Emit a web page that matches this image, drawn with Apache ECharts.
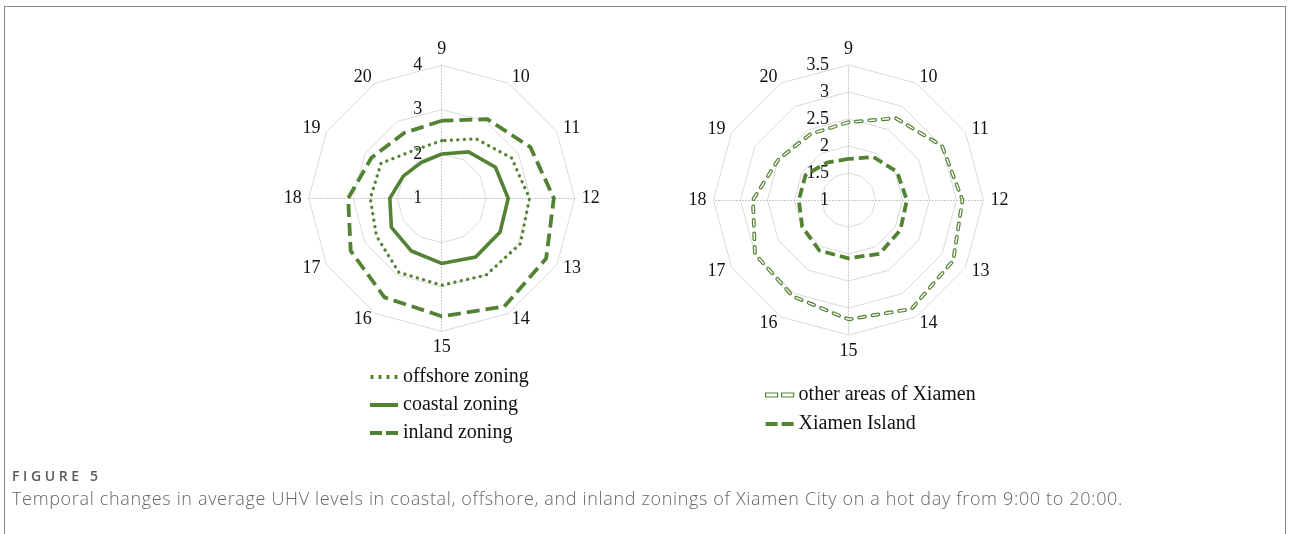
<!DOCTYPE html>
<html>
<head>
<meta charset="utf-8">
<script src="https://cdn.jsdelivr.net/npm/echarts@6/dist/echarts.min.js"></script>
<style>
  html, body { margin: 0; padding: 0; background: #fff; }
  #wrap { position: relative; width: 1290px; height: 534px; overflow: hidden; }
  #frame { position: absolute; left: 4px; top: 6px; width: 1280px; height: 600px; border: 1px solid #8a8a8a; }
  #chart { position: absolute; left: 0; top: 0; width: 1290px; height: 534px; }
  .fig-label { position: absolute; left: 12px; top: 466px; font: 600 14px "Open Sans", sans-serif; letter-spacing: 3.6px; color: #5a5a5a; white-space: nowrap; }
  .fig-caption { position: absolute; left: 12px; top: 486px; font: 300 18px "Open Sans", sans-serif; letter-spacing: 0.66px; color: #666; white-space: nowrap; }
</style>
</head>
<body>
<div id="wrap">
  <div id="frame"></div>
  <div id="chart"></div>
  <div class="fig-label">FIGURE 5</div>
  <div class="fig-caption">Temporal changes in average UHV levels in coastal, offshore, and inland zonings of Xiamen City on a hot day from 9:00 to 20:00.</div>
</div>
<script>
// Hours of the day (9:00 – 20:00), clockwise from the top
const hours = ['9', '10', '11', '12', '13', '14', '15', '16', '17', '18', '19', '20'];

// Average UHV level by zoning (left chart)
const offshore = [2.30, 2.55, 2.82, 2.98, 3.05, 3.00, 2.96, 2.93, 2.70, 2.61, 2.58, 2.25];
const coastal  = [2.00, 2.21, 2.40, 2.50, 2.52, 2.53, 2.47, 2.37, 2.31, 2.17, 2.00, 1.93];
const inland   = [2.75, 3.06, 3.31, 3.53, 3.72, 3.82, 3.66, 3.58, 3.37, 3.11, 2.83, 2.70];

// Average UHV level by area (right chart)
const otherAreas   = [2.44, 2.75, 3.00, 3.11, 3.24, 3.33, 3.21, 3.06, 3.00, 2.77, 2.50, 2.41];
const xiamenIsland = [1.76, 1.92, 2.04, 2.08, 2.11, 2.15, 2.08, 2.08, 1.99, 1.92, 1.92, 1.80];

// Value-axis ranges
const leftRange  = { min: 1, max: 4, splits: 3 };
const rightRange = { min: 1, max: 3.5, splits: 5 };

const GREEN = '#548235';
const GRID = '#d9d9d9';
const SERIF = '"Liberation Serif", "Times New Roman", serif';

// ECharts lays radar indicators out counter-clockwise; reorder so hours run clockwise.
const order = [0].concat(hours.slice(1).map((_, i) => hours.length - 1 - i));
const reorder = arr => order.map(i => arr[i]);

function indicators(range) {
  return order.map((i, k) => {
    const h = hours[i];
    const straight = (h === '9' || h === '12' || h === '15' || h === '18');
    return {
      name: h,
      min: range.min,
      max: range.max,
      axisLabel: { show: k === 0 },
      axisLine: straight ? { lineStyle: { color: '#c4c4c4', type: [1, 2] } } : undefined
    };
  });
}

function radarBase(center, radius, range) {
  return {
    center: center,
    radius: radius,
    startAngle: 90,
    splitNumber: range.splits,
    shape: 'polygon',
    indicator: indicators(range),
    nameGap: 7,
    axisName: { color: '#111', fontFamily: SERIF, fontSize: 18 },
    axisLine: { lineStyle: { color: GRID, width: 1 } },
    splitLine: { lineStyle: { color: GRID, width: 1 } },
    splitArea: { show: false },
    axisTick: { show: false },
    axisLabel: { show: false, color: '#111', fontFamily: SERIF, fontSize: 18, margin: 19.5 }
  };
}

function radarSeries(name, radarIndex, values, lineStyle) {
  return {
    type: 'radar',
    name: name,
    radarIndex: radarIndex,
    symbol: 'none',
    silent: true,
    itemStyle: { color: GREEN },
    lineStyle: Object.assign({ color: GREEN }, lineStyle),
    emphasis: { disabled: true },
    data: [{ value: reorder(values), name: name }]
  };
}

const dashIcon = 'path://M0,0h12v4h-12z M16,0h12v4h-12z';
const dotIcon = 'path://M1,0h3v4h-3z M9,0h3v4h-3z M17,0h3v4h-3z M25,0h3v4h-3z';

const legendText = { fontFamily: SERIF, fontSize: 20, color: '#111', lineHeight: 20 };

const chart = echarts.init(document.getElementById('chart'), null, { renderer: 'canvas' });
chart.setOption({
  animation: false,
  radar: [
    radarBase([441.7, 198.3], 133, leftRange),
    radarBase([848.5, 200], 135, rightRange)
  ],
  series: [
    radarSeries('offshore zoning', 0, offshore, { width: 3.3, type: [0.1, 6.4], cap: 'round' }),
    radarSeries('coastal zoning', 0, coastal, { width: 3.6, type: 'solid', join: 'miter' }),
    radarSeries('inland zoning', 0, inland, { width: 3.8, type: [13, 6] }),
    radarSeries('other areas of Xiamen', 1, otherAreas, { width: 3.8, type: [6, 7.5], cap: 'round' }),
    // white core that turns the dashes above into hollow outlines
    Object.assign(radarSeries('other areas of Xiamen', 1, otherAreas, { color: '#fff', width: 1.4, type: [6, 7.5], cap: 'round' }), { itemStyle: { color: '#fff' } }),
    radarSeries('Xiamen Island', 1, xiamenIsland, { width: 3.8, type: [10, 5] })
  ],
  legend: [
    {
      orient: 'vertical', left: 370, top: 367, padding: 0,
      itemWidth: 28, itemHeight: 4, itemGap: 8,
      selectedMode: false,
      textStyle: legendText,
      itemStyle: { borderWidth: 0 },
      data: [
        { name: 'offshore zoning', icon: dotIcon },
        { name: 'coastal zoning', icon: 'rect' },
        { name: 'inland zoning', icon: dashIcon }
      ]
    },
    {
      orient: 'vertical', left: 765, top: 385, padding: 0,
      itemWidth: 28, itemHeight: 4, itemGap: 9,
      selectedMode: false,
      textStyle: legendText,
      itemStyle: { borderWidth: 0 },
      data: [
        { name: 'other areas of Xiamen', icon: dashIcon, itemStyle: { color: '#fff', borderColor: GREEN, borderWidth: 1.2 } },
        { name: 'Xiamen Island', icon: dashIcon, itemStyle: { color: GREEN } }
      ]
    }
  ]
});
</script>
</body>
</html>
